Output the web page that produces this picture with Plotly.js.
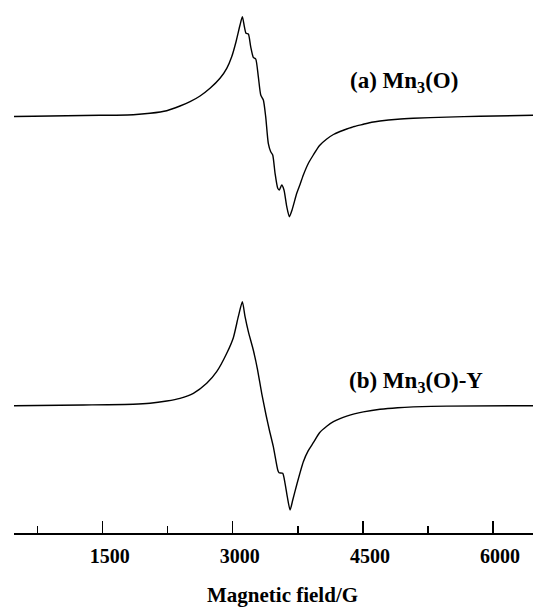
<!DOCTYPE html>
<html>
<head>
<meta charset="utf-8">
<script src="https://cdn.plot.ly/plotly-3.0.1.min.js"></script>
<style>html,body{margin:0;padding:0;background:#fff;}#chart{width:533px;height:607px;}</style>
</head>
<body>
<div id="chart"></div>
<script>
// Magnetic field (G) and EPR signal (arbitrary units)
const fieldA = [477, 700, 1085, 1469, 1853, 2045, 2238, 2391, 2507, 2622, 2737, 2852, 2930, 2987, 3037, 3083, 3110, 3133, 3152, 3179, 3206, 3236, 3264, 3294, 3322, 3352, 3379, 3409, 3437, 3460, 3487, 3518, 3536, 3564, 3590, 3622, 3652, 3683, 3737, 3775, 3813, 3870, 3928, 4000, 4083, 4160, 4236, 4313, 4400, 4505, 4600, 4697, 4900, 5081, 5466, 5850, 6461];
const signalA = [0, 0.2, 0.8, 1.2, 1.8, 3.2, 5.8, 10.5, 14.8, 20.5, 28.2, 38.2, 48.2, 59.8, 74.8, 91.5, 99.8, 89.8, 83.2, 82.5, 69.8, 59.2, 57.5, 39.8, 21.5, 16.5, -0.2, -26.8, -35.2, -38.5, -56.8, -71.8, -73.5, -68.5, -73.5, -90.2, -100.2, -93.5, -76.8, -68, -58.5, -47, -38.5, -29, -22.5, -18, -15, -12.5, -10, -7.8, -5.8, -4.5, -2.7, -1.8, -0.6, 0.3, 1.2];

const fieldB = [477, 1276, 1853, 2045, 2238, 2391, 2545, 2699, 2814, 2930, 3006, 3063, 3110, 3141, 3179, 3236, 3282, 3333, 3383, 3421, 3467, 3518, 3533, 3575, 3602, 3628, 3660, 3691, 3737, 3813, 3870, 3928, 4000, 4083, 4160, 4236, 4313, 4400, 4505, 4697, 4900, 5081, 5466, 6461];
const signalB = [0, 0.7, 1.4, 2.4, 4.7, 7.4, 12.4, 22.4, 34, 52.4, 68, 89, 104, 89, 74, 55.7, 37.4, 12.4, -9.3, -24.3, -41, -64.3, -67, -67.6, -77.6, -91, -104.3, -94.3, -79, -56, -45, -37, -27, -20.5, -16, -13, -10.5, -8.2, -6.2, -3.6, -2, -1.2, -0.4, 0];

const offsetA = 416.5;
const offsetB = 127.3;

const majorTicks = [1500, 3000, 4500, 6000];
const tickLabels = ['1500', '3000', '4500', '6000'];
const labelA = '(a) Mn<sub>3</sub>(O)';
const labelB = '(b) Mn<sub>3</sub>(O)-Y';
const xTitle = 'Magnetic field/G';

const serif = 'Liberation Serif, Times New Roman, serif';

const lineStyle = {color: '#000', width: 1.4, shape: 'spline', smoothing: 0.6};

const traces = [
  {x: fieldA, y: signalA.map(v => v + offsetA), mode: 'lines', line: lineStyle, hoverinfo: 'skip'},
  {x: fieldB, y: signalB.map(v => v + offsetB), mode: 'lines', line: lineStyle, hoverinfo: 'skip'}
];

const layout = {
  width: 533, height: 607,
  margin: {l: 14, r: 0, t: 0, b: 74},
  paper_bgcolor: '#fff', plot_bgcolor: '#fff',
  showlegend: false,
  xaxis: {
    range: [477, 6461],
    showgrid: false, zeroline: false,
    showline: true, linecolor: '#000', linewidth: 1.5,
    tickmode: 'array', tickvals: majorTicks, ticktext: tickLabels,
    ticks: 'inside', ticklen: 12, tickwidth: 1.3, tickcolor: '#000',
    minor: {tickmode: 'linear', tick0: 750, dtick: 1500, ticks: 'inside', ticklen: 7, tickwidth: 1.3, tickcolor: '#000'},
    ticklabelshift: 7, ticklabelstandoff: 4,
    tickfont: {family: serif, size: 20, color: '#000', weight: 'bold'}
  },
  yaxis: {range: [0, 533], visible: false, showgrid: false, zeroline: false},
  annotations: [
    {text: labelA, xref: 'paper', yref: 'paper', x: 0.7505, y: 0.8467, xanchor: 'center', yanchor: 'middle', showarrow: false,
     font: {family: serif, size: 23, color: '#000', weight: 'bold'}},
    {text: labelB, xref: 'paper', yref: 'paper', x: 0.7755, y: 0.2839, xanchor: 'center', yanchor: 'middle', showarrow: false,
     font: {family: serif, size: 23, color: '#000', weight: 'bold'}},
    {text: xTitle, xref: 'paper', yref: 'paper', x: 0.517, y: -0.117, xanchor: 'center', yanchor: 'middle', showarrow: false,
     font: {family: serif, size: 21, color: '#000', weight: 'bold'}}
  ]
};

Plotly.newPlot('chart', traces, layout, {displayModeBar: false, staticPlot: true});
</script>
</body>
</html>
